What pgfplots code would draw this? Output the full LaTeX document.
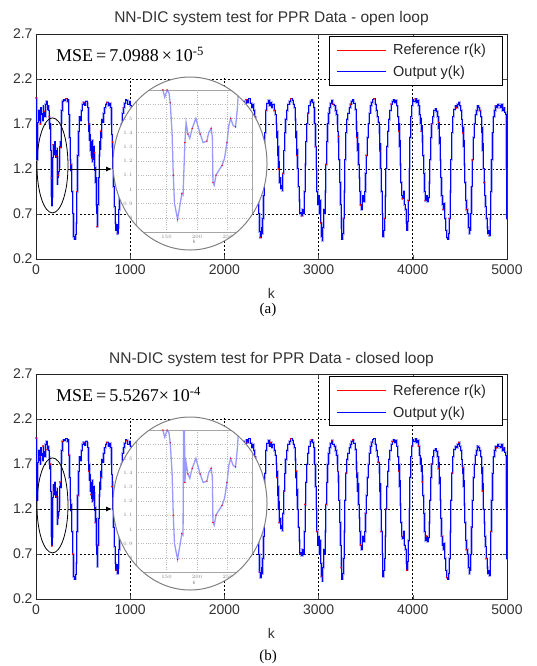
\documentclass[border=0pt]{standalone}
\usepackage{fontspec}
\setmainfont{Liberation Serif}
\newfontfamily\arialf{Liberation Sans}
\usepackage{pgfplots}
\pgfplotsset{compat=1.18}
\usepackage{pgfplotstable}
\usetikzlibrary{arrows.meta}
\definecolor{legred}{rgb}{0.99,0.02,0.02}
\definecolor{legblue}{rgb}{0.02,0.02,0.99}

\pgfplotstableread[row sep=\\]{
k y\\
0 1.99\\ 5 1.55\\ 10 1.30\\ 18 1.72\\ 28 1.85\\ 34 1.74\\ 40 1.78\\ 46 1.70\\ 52 1.88\\ 58 1.80\\ 65 1.82\\ 70 1.74\\ 75 1.90\\ 82 1.80\\ 88 1.84\\
94 1.78\\ 100 1.92\\ 112 1.95\\ 118 1.86\\ 125 1.90\\ 135 1.85\\ 140 1.78\\ 144 1.70\\ 147 1.65\\ 151 1.70\\ 154 1.68\\ 156 1.61\\
159 1.40\\ 161 1.10\\ 163 0.90\\ 168 0.79\\ 172 0.89\\ 175 0.97\\ 177 0.96\\ 180 1.33\\ 182 1.47\\ 185 1.39\\
188 1.36\\ 192 1.43\\ 198 1.50\\ 205 1.39\\ 210 1.33\\ 216 1.34\\ 219 1.40\\ 223 1.43\\ 225 1.37\\ 226 1.05\\
228 1.03\\ 231 1.10\\ 235 1.13\\ 241 1.17\\ 245 1.22\\ 249 1.33\\ 252 1.45\\ 255 1.50\\ 259 1.45\\ 263 1.44\\
266 1.57\\ 268 1.71\\ 272 1.85\\ 280 1.95\\ 290 1.97\\ 305 1.96\\ 318 1.98\\ 330 1.95\\ 342 1.97\\ 350 1.80\\
356 1.55\\ 362 1.30\\ 368 1.18\\ 375 1.25\\ 382 0.95\\ 390 0.70\\ 398 0.45\\ 410 0.42\\ 420 0.47\\ 428 0.60\\
435 0.95\\ 442 1.35\\ 450 1.62\\ 460 1.78\\ 470 1.74\\ 480 1.85\\ 492 1.92\\ 505 1.94\\ 518 1.91\\ 530 1.95\\
542 1.93\\ 552 1.88\\ 556 1.75\\ 560 1.62\\ 564 1.70\\ 568 1.52\\ 572 1.58\\ 576 1.40\\ 580 1.50\\ 584 1.36\\
588 1.48\\ 592 1.32\\ 597 1.52\\ 601 1.28\\ 605 1.42\\ 609 1.30\\ 612 1.45\\ 616 1.25\\ 620 1.38\\ 624 1.18\\
628 1.22\\ 632 1.05\\ 636 1.10\\ 640 0.80\\ 644 0.70\\ 648 0.56\\ 652 0.62\\ 655 0.80\\ 662 1.10\\ 670 1.35\\
678 1.50\\ 683 1.42\\ 688 1.62\\ 693 1.55\\ 698 1.75\\ 708 1.72\\ 718 1.82\\ 728 1.88\\ 740 1.92\\ 752 1.94\\
765 1.90\\ 778 1.93\\ 790 1.88\\ 800 1.70\\ 804 1.58\\ 808 1.45\\ 812 1.50\\ 815 1.20\\ 822 1.00\\ 830 0.78\\
840 0.60\\ 848 0.52\\ 856 0.58\\ 864 0.48\\ 872 0.55\\ 880 0.75\\ 888 1.10\\ 896 1.45\\ 905 1.70\\ 915 1.82\\
928 1.88\\ 940 1.93\\ 952 1.97\\ 964 1.96\\ 976 1.92\\ 990 1.95\\
1000 1.90\\ 1012 1.80\\ 1025 1.55\\ 1040 1.30\\ 1055 1.00\\ 1070 0.70\\ 1085 0.60\\ 1100 0.90\\ 1115 1.40\\ 1130 1.75\\
1150 1.90\\ 1170 1.85\\ 1190 1.70\\ 1210 1.30\\ 1230 0.90\\ 1250 0.80\\ 1270 1.20\\ 1290 1.70\\ 1310 1.88\\ 1340 1.80\\
1370 1.50\\ 1400 1.30\\ 1430 0.80\\ 1450 0.60\\ 1470 1.10\\ 1490 1.70\\ 1510 1.90\\ 1550 1.85\\ 1600 1.75\\ 1630 1.20\\
1650 0.70\\ 1670 1.30\\ 1700 1.90\\ 1750 1.80\\ 1800 1.40\\ 1830 0.80\\ 1850 0.55\\ 1870 1.20\\ 1900 1.85\\ 1950 1.92\\
2000 1.88\\ 2030 1.40\\ 2060 0.95\\ 2090 0.60\\ 2110 0.85\\ 2130 1.40\\ 2160 1.80\\ 2185 1.92\\ 2200 1.95\\ 2215 1.92\\
2230 1.97\\ 2245 1.94\\ 2260 1.98\\ 2275 1.93\\ 2290 1.88\\ 2300 1.92\\ 2312 1.85\\ 2322 1.78\\ 2332 1.60\\ 2340 1.40\\
2348 1.15\\ 2356 0.95\\ 2364 0.70\\ 2372 0.50\\ 2380 0.44\\ 2390 0.55\\ 2398 0.48\\ 2406 0.65\\ 2414 0.90\\ 2422 1.30\\
2430 1.60\\ 2440 1.85\\ 2452 1.93\\ 2465 1.96\\ 2478 1.90\\ 2490 1.94\\ 2502 1.88\\ 2515 1.92\\ 2528 1.85\\ 2540 1.80\\
2550 1.70\\ 2558 1.55\\ 2562 1.62\\ 2566 1.35\\ 2570 1.45\\ 2574 1.20\\ 2578 1.28\\ 2582 1.05\\ 2590 1.10\\ 2598 0.98\\
2606 1.02\\ 2614 0.96\\ 2622 1.15\\ 2630 1.40\\ 2640 1.60\\ 2650 1.75\\ 2662 1.85\\ 2675 1.92\\ 2690 1.95\\ 2705 1.98\\
2718 1.96\\ 2730 1.92\\ 2742 1.88\\ 2752 1.75\\ 2760 1.55\\ 2764 1.62\\ 2768 1.35\\ 2772 1.42\\ 2776 1.20\\ 2784 1.00\\
2792 0.85\\ 2800 0.70\\ 2810 0.72\\ 2820 0.68\\ 2830 0.75\\ 2840 0.70\\ 2848 0.95\\ 2856 1.25\\ 2865 1.50\\ 2875 1.70\\
2885 1.82\\ 2897 1.90\\ 2910 1.95\\ 2922 1.97\\ 2935 1.94\\ 2948 1.88\\ 2958 1.70\\ 2966 1.45\\ 2974 1.20\\ 2982 0.95\\
2990 0.80\\ 2998 0.90\\ 3006 0.70\\ 3014 0.85\\ 3022 0.60\\ 3030 0.45\\ 3038 0.40\\ 3046 0.55\\ 3054 0.75\\ 3062 0.70\\
3070 0.95\\ 3078 1.25\\ 3086 1.50\\ 3095 1.70\\ 3105 1.82\\ 3115 1.88\\ 3127 1.93\\ 3140 1.96\\ 3152 1.92\\ 3165 1.90\\
3178 1.85\\ 3190 1.80\\ 3200 1.70\\ 3204 1.62\\ 3208 1.50\\ 3212 1.56\\ 3216 1.30\\ 3224 1.05\\ 3232 0.80\\ 3240 0.55\\
3248 0.42\\ 3256 0.48\\ 3264 0.65\\ 3272 0.95\\ 3280 1.30\\ 3290 1.60\\ 3300 1.75\\ 3312 1.82\\ 3325 1.88\\ 3338 1.92\\
3350 1.95\\ 3362 1.97\\ 3375 1.93\\ 3388 1.86\\ 3398 1.72\\ 3402 1.65\\ 3406 1.55\\ 3410 1.60\\ 3414 1.40\\ 3418 1.48\\
3422 1.25\\ 3430 1.10\\ 3438 0.95\\ 3446 0.80\\ 3454 0.75\\ 3462 0.85\\ 3470 0.90\\ 3480 0.84\\ 3490 0.95\\ 3498 1.15\\
3506 1.35\\ 3515 1.55\\ 3525 1.70\\ 3537 1.82\\ 3550 1.90\\ 3562 1.94\\ 3575 1.97\\ 3588 1.98\\ 3600 1.92\\ 3612 1.85\\
3622 1.78\\ 3632 1.72\\ 3642 1.60\\ 3646 1.66\\ 3650 1.40\\ 3654 1.48\\ 3658 1.20\\ 3666 0.95\\ 3674 0.70\\ 3682 0.45\\
3690 0.52\\ 3698 0.65\\ 3706 0.90\\ 3714 1.20\\ 3724 1.45\\ 3734 1.62\\ 3745 1.75\\ 3757 1.85\\ 3770 1.92\\ 3782 1.95\\
3795 1.97\\ 3808 1.94\\ 3820 1.96\\ 3832 1.90\\ 3842 1.78\\ 3850 1.62\\ 3854 1.70\\ 3858 1.45\\ 3862 1.52\\ 3866 1.25\\
3874 1.05\\ 3882 0.90\\ 3890 0.87\\ 3900 0.95\\ 3910 0.80\\ 3920 0.75\\ 3928 0.60\\ 3936 0.52\\ 3944 0.62\\ 3952 0.85\\
3960 1.20\\ 3970 1.55\\ 3980 1.78\\ 3990 1.90\\ 4000 1.97\\ 4012 1.95\\ 4025 1.98\\ 4038 1.94\\ 4050 1.96\\ 4062 1.90\\
4072 1.80\\ 4080 1.70\\ 4085 1.76\\ 4090 1.62\\ 4095 1.68\\ 4100 1.50\\ 4104 1.56\\ 4108 1.35\\ 4116 1.15\\ 4124 0.95\\
4132 0.85\\ 4142 0.90\\ 4152 0.84\\ 4162 0.88\\ 4172 1.05\\ 4180 1.30\\ 4190 1.55\\ 4200 1.70\\ 4212 1.78\\ 4225 1.85\\
4238 1.87\\ 4250 1.84\\ 4262 1.78\\ 4272 1.65\\ 4276 1.72\\ 4280 1.48\\ 4285 1.55\\ 4290 1.30\\ 4298 1.10\\ 4306 0.90\\
4314 0.80\\ 4322 0.75\\ 4330 0.82\\ 4340 0.65\\ 4350 0.52\\ 4360 0.44\\ 4370 0.42\\ 4380 0.48\\ 4388 0.65\\ 4396 0.95\\
4405 1.30\\ 4415 1.60\\ 4425 1.78\\ 4437 1.86\\ 4450 1.90\\ 4462 1.88\\ 4475 1.92\\ 4488 1.94\\ 4500 1.90\\ 4510 1.85\\
4520 1.75\\ 4525 1.68\\ 4530 1.60\\ 4534 1.66\\ 4538 1.45\\ 4542 1.52\\ 4546 1.25\\ 4554 1.05\\ 4562 0.85\\ 4570 0.75\\
4580 0.70\\ 4590 0.55\\ 4598 0.48\\ 4606 0.52\\ 4614 0.70\\ 4622 1.00\\ 4632 1.30\\ 4642 1.55\\ 4652 1.70\\ 4664 1.80\\
4676 1.85\\ 4688 1.90\\ 4700 1.88\\ 4712 1.85\\ 4722 1.78\\ 4732 1.60\\ 4736 1.66\\ 4740 1.40\\ 4744 1.48\\ 4748 1.20\\
4756 1.05\\ 4764 0.90\\ 4772 0.78\\ 4780 0.65\\ 4788 0.55\\ 4796 0.48\\ 4804 0.52\\ 4812 0.46\\ 4820 0.65\\ 4828 0.95\\
4836 1.30\\ 4845 1.60\\ 4855 1.78\\ 4866 1.85\\ 4878 1.90\\ 4890 1.88\\ 4902 1.92\\ 4915 1.90\\ 4928 1.88\\ 4940 1.92\\
4952 1.85\\ 4964 1.88\\ 4976 1.83\\ 4986 1.80\\ 4993 1.20\\ 4997 0.65\\ 5000 0.65\\
}\maindata

\pgfplotstableread[row sep=\\]{
k y\\
100 1.90\\ 120 1.88\\ 135 1.82\\ 140 1.78\\ 144 1.70\\ 147 1.65\\ 151 1.70\\ 154 1.68\\ 156 1.61\\ 159 1.40\\
161 1.10\\ 163 0.90\\ 168 0.79\\ 172 0.89\\ 175 0.97\\ 177 0.96\\ 180 1.33\\ 182 1.47\\ 185 1.39\\ 188 1.36\\
192 1.43\\ 198 1.50\\ 205 1.39\\ 210 1.33\\ 216 1.34\\ 219 1.40\\ 223 1.43\\ 225 1.37\\ 226 1.05\\ 228 1.03\\
231 1.10\\ 235 1.13\\ 241 1.17\\ 245 1.22\\ 249 1.33\\ 252 1.45\\ 255 1.50\\ 259 1.45\\ 263 1.44\\ 266 1.57\\
268 1.71\\ 272 1.85\\ 280 1.95\\ 290 1.97\\
}\insetA

\pgfplotstableread[row sep=\\]{
k y\\
100 1.90\\ 120 1.88\\ 135 1.82\\ 140 1.78\\ 144 1.70\\ 147 1.65\\ 151 1.70\\ 154 1.68\\ 156 1.61\\ 159 1.40\\
161 1.10\\ 163 0.90\\ 168 0.79\\ 172 0.89\\ 175 0.97\\ 177 0.96\\ 178 1.90\\ 179 1.90\\ 180 1.33\\ 182 1.47\\ 185 1.39\\ 188 1.36\\
192 1.43\\ 198 1.50\\ 205 1.39\\ 210 1.33\\ 216 1.34\\ 219 1.40\\ 223 1.43\\ 225 1.37\\ 226 1.05\\ 228 1.03\\
231 1.10\\ 235 1.13\\ 241 1.17\\ 245 1.22\\ 249 1.33\\ 252 1.45\\ 255 1.50\\ 259 1.45\\ 263 1.44\\ 266 1.57\\
268 1.71\\ 272 1.85\\ 280 1.95\\ 290 1.97\\
}\insetB

\pgfplotsset{
  mainax/.style={
    scale only axis, width=471pt, height=225pt,
    xmin=0, xmax=5000, ymin=0.2, ymax=2.7,
    xtick={0,1000,2000,3000,4000,5000},
    ytick={0.2,0.7,1.2,1.7,2.2,2.7},
    grid=major,
    grid style={black, line width=0.6pt, dash pattern=on 2pt off 2pt},
    axis line style={line width=0.9pt, black!85},
    tick style={black!70, line width=0.5pt},
    tick align=inside, major tick length=4pt,
    /pgf/number format/assume math mode=true,
    ticklabel style={font=\arialf\fontsize{14}{16}\selectfont, text=black!80},
    xticklabel style={/pgf/number format/set thousands separator={}, yshift=-2pt},
    yticklabel style={/pgf/number format/.cd, fixed, fixed zerofill, precision=1},
    xlabel={k},
    xlabel style={font=\arialf\fontsize{14}{16}\selectfont, text=black!80, at={(0.5,0)}, anchor=base, yshift=-39pt},
    title style={font=\arialf\fontsize{15.5}{18}\selectfont, text=black!80, anchor=base, yshift=5pt},
  },
  insetax/.style={
    scale only axis, width=116pt, height=142pt,
    xmin=100, xmax=290, ymin=0.7, ymax=1.7,
    xtick={150,200,250}, ytick={0.8,0.9,1,1.1,1.2,1.3,1.4,1.5,1.6},
    grid=major, grid style={gray!55, dotted, line width=0.5pt},
    axis line style={gray!70, line width=0.6pt},
    major tick length=0pt,
    ticklabel style={font=\arialf\fontsize{5}{6}\selectfont, text=gray},
    xlabel={k}, xlabel style={font=\arialf\fontsize{5}{6}\selectfont, text=gray, at={(0.5,0)}, anchor=base, yshift=-12pt},
  },
}
\tikzset{
  legbox/.style={draw=black, line width=1pt, fill=white, anchor=north east, inner sep=0pt, minimum width=173pt, minimum height=49pt},
  legtxt/.style={anchor=base west, inner sep=0pt, font=\arialf\fontsize{14.5}{17}\selectfont, text=black!85},
}

\begin{document}
\begin{tikzpicture}
\useasboundingbox (-36pt,-407pt) rectangle (501pt,259pt);

% ---------------- (a) open loop ----------------
\begin{axis}[mainax, title={NN-DIC system test for PPR Data - open loop}]
\addplot[color=red, line width=0.6pt, const plot] table {\maindata};
\addplot[color=blue!30, line width=2.3pt, const plot, forget plot] table {\maindata};
\addplot[color=blue, line width=1pt, const plot] table {\maindata};
\addplot[red, only marks, mark=*, mark size=0.6pt, mark repeat=7, forget plot] table {\maindata};
\coordinate (rA1) at (axis cs:8,2.215);
\coordinate (rA2) at (axis cs:2330,2.685);
\coordinate (mA) at (axis cs:212,2.389);
\draw[black, line width=0.8pt] (axis cs:175,1.24) ellipse [x radius=15.5pt, y radius=47.5pt];
\draw[black, line width=0.8pt, -{Latex[length=6pt, width=5pt]}] (axis cs:340,1.2) -- (axis cs:807,1.2);
\coordinate (cA) at (axis cs:1635,1.261);
\coordinate (iA) at (axis cs:1062,0.5);
\coordinate (lA) at (axis cs:5000,2.7);
\end{axis}
\fill[white] (rA1) rectangle (rA2);
\node[anchor=base west, inner sep=0pt, font=\fontsize{18}{22}\selectfont] at (mA) {MSE\,=\,7.0988\,×\,10\textsuperscript{-5}};
\fill[white] (cA) ellipse [x radius=77pt, y radius=86.5pt];
\begin{scope}
\clip (cA) ellipse [x radius=77pt, y radius=86.5pt];
\begin{axis}[insetax, at={(iA)}, anchor=south west]
\addplot[blue!40, line width=1.3pt] table {\insetA};
\addplot[red, only marks, mark=*, mark size=0.45pt, mark repeat=2] table {\insetA};
\end{axis}
\end{scope}
\draw[gray, line width=1pt] (cA) ellipse [x radius=77pt, y radius=86.5pt];
\node[legbox] (LA) at ([xshift=-4pt, yshift=-2pt]lA) {};
\draw[draw=legred, line width=0.8pt] ([xshift=8pt, yshift=-14pt]LA.north west) -- ++(49pt,0pt);
\draw[draw=legblue, line width=1pt] ([xshift=8pt, yshift=-36pt]LA.north west) -- ++(49pt,0pt);
\node[legtxt] at ([xshift=64pt, yshift=-19pt]LA.north west) {Reference r(k)};
\node[legtxt] at ([xshift=64pt, yshift=-41pt]LA.north west) {Output y(k)};
\node[font=\fontsize{15}{17}\selectfont] at (232pt,-51pt) {(a)};

% ---------------- (b) closed loop ----------------
\begin{axis}[mainax, at={(0pt,-340pt)}, title={NN-DIC system test for PPR Data - closed loop}]
\addplot[color=red, line width=0.6pt, const plot] table {\maindata};
\addplot[color=blue!30, line width=2.3pt, const plot, forget plot] table {\maindata};
\addplot[color=blue, line width=1pt, const plot] table {\maindata};
\addplot[red, only marks, mark=*, mark size=0.6pt, mark repeat=6, forget plot] table {\maindata};
\coordinate (rB1) at (axis cs:8,2.215);
\coordinate (rB2) at (axis cs:2330,2.685);
\coordinate (mB) at (axis cs:212,2.389);
\draw[black, line width=0.8pt] (axis cs:175,1.24) ellipse [x radius=15.5pt, y radius=47.5pt];
\draw[black, line width=0.8pt, -{Latex[length=6pt, width=5pt]}] (axis cs:340,1.2) -- (axis cs:807,1.2);
\coordinate (cB) at (axis cs:1635,1.261);
\coordinate (iB) at (axis cs:1062,0.5);
\coordinate (lB) at (axis cs:5000,2.7);
\end{axis}
\fill[white] (rB1) rectangle (rB2);
\node[anchor=base west, inner sep=0pt, font=\fontsize{18}{22}\selectfont] at (mB) {MSE\,=\,5.5267×\,10\textsuperscript{-4}};
\fill[white] (cB) ellipse [x radius=77pt, y radius=86.5pt];
\begin{scope}
\clip (cB) ellipse [x radius=77pt, y radius=86.5pt];
\begin{axis}[insetax, at={(iB)}, anchor=south west]
\addplot[blue!40, line width=1.3pt] table {\insetB};
\addplot[red, only marks, mark=*, mark size=0.45pt, mark repeat=2] table {\insetB};
\end{axis}
\end{scope}
\draw[gray, line width=1pt] (cB) ellipse [x radius=77pt, y radius=86.5pt];
\node[legbox] (LB) at ([xshift=-4pt, yshift=-2pt]lB) {};
\draw[draw=legred, line width=0.8pt] ([xshift=8pt, yshift=-14pt]LB.north west) -- ++(49pt,0pt);
\draw[draw=legblue, line width=1pt] ([xshift=8pt, yshift=-36pt]LB.north west) -- ++(49pt,0pt);
\node[legtxt] at ([xshift=64pt, yshift=-19pt]LB.north west) {Reference r(k)};
\node[legtxt] at ([xshift=64pt, yshift=-41pt]LB.north west) {Output y(k)};
\node[font=\fontsize{15}{17}\selectfont] at (232pt,-398pt) {(b)};
\end{tikzpicture}
\end{document}
